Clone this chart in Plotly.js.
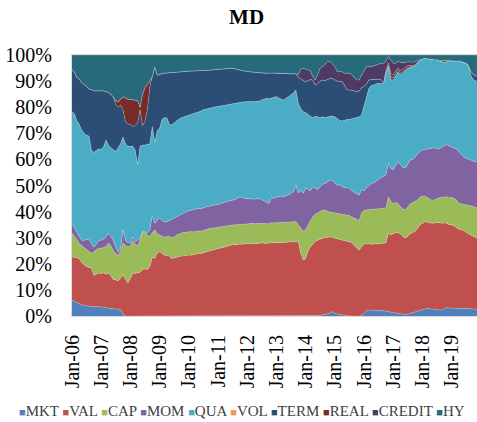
<!DOCTYPE html>
<html>
<head>
<meta charset="utf-8">
<script src="https://cdn.plot.ly/plotly-3.0.1.min.js"></script>
<style>
html,body{margin:0;padding:0;background:#fff;}
#chart{width:477px;height:422px;}
</style>
</head>
<body>
<div id="chart"></div>
<script>
// Monthly shares (%), Jan-2006 .. Dec-2019, one row per year
const MKT = [
6.0,5.5,5.0,4.6,4.3,4.0,4.0,3.8,3.6,3.5,3.5,3.6,
3.4,3.3,3.2,3.0,2.9,2.8,2.7,2.6,2.5,0.8,0,0,
0,0,0,0,0,0,0,0,0,0,0,0,
0,0,0,0,0,0,0,0,0,0,0,0,
0,0,0,0,0,0,0,0,0,0,0,0,
0,0,0,0,0,0,0,0,0,0,0,0,
0,0,0,0,0,0,0,0,0,0,0,0,
0,0,0,0,0,0,0,0,0,0,0,0,
0,0,0,0,0,0,0.2,0.5,0.6,0.8,1.2,1.7,
1.0,0.8,0.6,0.4,0.2,0,0,0,0,0,0,0.3,
1.2,2.0,2.3,2.3,2.3,2.2,2.2,2.1,2.0,1.8,1.6,1.5,
1.3,1.0,1.0,0.9,0.7,0.6,0.8,1.0,1.2,1.5,1.8,2.2,
2.5,2.9,2.9,2.8,2.8,2.6,2.4,2.3,2.3,2.8,3.3,3.1,
3.0,2.9,2.9,2.8,2.9,3.0,2.9,2.8,2.6,2.5,2.5,2.5];

const VAL = [
16.7,17.0,17.3,17.4,16.2,15.5,14.9,14.8,14.7,12.0,12.5,12.9,
12.9,13.2,12.8,13.5,12.6,11.2,11.1,10.9,12.0,15.1,14.0,12.6,
14.5,16.5,16.3,16.5,16.8,17.8,18.0,17.8,19.0,22.5,22.0,24.0,
24.6,24.0,23.3,23.3,23.0,22.0,22.3,22.5,22.8,23.0,23.0,23.2,
23.4,23.3,23.6,23.8,24.0,23.9,24.2,24.6,24.8,25.1,25.3,25.6,
25.8,26.0,26.3,26.5,26.8,27.0,27.5,27.3,27.4,27.6,27.5,27.7,
27.8,27.8,27.9,27.7,27.8,28.0,28.0,27.9,27.8,28.0,28.1,28.0,
28.1,28.2,28.2,28.2,28.3,28.4,28.4,28.5,28.7,28.6,24.0,21.5,
22.0,25.0,26.5,27.5,28.5,29.0,29.3,29.3,29.4,29.4,29.1,28.4,
28.8,28.7,28.6,28.6,28.6,28.6,28.5,28.0,27.0,26.0,25.3,26.2,
26.4,25.6,25.4,25.2,25.3,25.5,25.6,25.7,25.9,26.2,30.1,29.5,
30.2,31.0,31.0,30.6,29.8,29.3,29.7,30.5,30.8,31.0,31.7,32.8,
33.0,33.2,33.1,33.0,32.7,33.0,33.4,33.4,33.2,32.8,32.2,31.9,
32.0,31.6,31.1,30.4,30.1,29.8,29.1,28.7,28.4,27.8,27.5,27.5];

const CAP = [
9.0,8.0,7.2,5.8,6.5,7.0,6.6,5.9,5.7,9.0,9.5,9.5,
9.7,9.8,10.5,11.5,11.5,11.0,10.2,9.5,10.5,12.1,13.0,13.9,
12.5,12.3,11.2,10.5,12.2,14.5,14.0,13.2,11.5,9.5,11.0,7.5,
6.5,6.5,7.0,7.2,7.5,8.0,8.0,8.5,8.7,8.8,9.0,9.0,
8.9,9.1,8.6,8.7,8.6,8.6,8.6,8.6,8.6,8.4,8.4,8.3,
8.2,8.2,8.1,8.0,7.8,7.7,7.4,7.7,7.6,7.6,7.6,7.5,
7.5,7.6,7.6,7.6,7.6,7.6,7.5,7.5,7.4,7.3,7.7,7.6,
7.6,7.6,7.6,7.6,7.6,7.6,7.6,7.6,7.4,6.4,9.6,11.0,
11.0,10.0,10.0,10.5,10.5,10.5,10.5,10.8,10.6,10.0,9.5,9.6,
9.7,9.8,9.8,10.0,10.0,10.0,10.0,10.0,10.5,11.0,11.3,13.0,
12.9,13.0,13.1,13.3,13.4,13.3,13.3,13.4,13.4,13.4,14.0,13.0,
11.5,11.5,11.0,10.5,10.5,10.7,11.5,11.5,11.5,11.5,11.0,10.5,
10.5,9.9,9.5,9.0,8.8,8.9,9.2,9.6,10.0,10.0,10.2,10.2,
10.5,10.5,10.5,10.0,10.0,10.2,10.8,11.0,11.2,11.7,11.5,11.5];

const MOM = [
3.8,3.5,2.8,2.7,2.0,2.5,3.7,5.0,3.7,1.9,2.0,3.0,
3.0,3.2,3.8,3.6,3.5,4.0,2.5,1.5,1.0,5.0,2.0,1.5,
1.0,1.5,1.0,2.0,1.0,0.2,0.3,0.8,2.5,6.5,2.5,5.0,
6.5,6.0,5.7,5.6,6.0,6.8,7.2,7.0,7.0,7.4,7.5,7.8,
8.0,8.1,8.6,8.5,8.6,8.5,8.7,8.6,8.6,8.7,8.6,8.6,
8.8,8.8,9.0,9.1,9.2,9.3,9.3,9.6,10.0,10.5,10.2,9.8,
9.7,9.4,9.5,9.4,9.5,9.4,9.0,8.6,8.3,7.8,9.9,9.4,
9.8,9.9,10.2,9.9,10.1,10.5,11.0,11.5,14.1,12.0,14.7,14.5,
16.0,13.5,11.5,11.5,10.0,9.0,9.5,9.9,10.2,11.3,12.2,12.4,
11.5,10.7,11.5,10.5,10.4,10.4,10.4,10.0,10.0,10.0,9.7,9.0,
7.5,8.4,9.2,10.0,10.0,10.5,11.2,11.8,12.2,12.6,12.8,12.5,
13.0,14.0,16.1,16.0,16.0,16.0,16.0,16.8,16.5,17.0,17.5,17.5,
17.6,17.6,18.5,19.5,20.0,20.0,19.0,18.9,19.3,19.7,19.9,20.0,
19.5,19.5,19.5,19.8,19.0,18.0,17.6,17.5,17.3,17.2,17.5,17.5];

const QUA = [
42.8,43.5,42.7,43.0,42.3,41.0,40.1,39.5,35.9,36.2,36.0,35.0,
35.0,35.3,37.1,33.9,34.0,34.6,36.5,40.0,40.0,35.6,37.0,37.0,
37.0,34.7,35.1,29.0,35.0,33.0,33.2,34.0,33.0,34.1,31.0,34.5,
34.4,39.0,40.0,39.9,37.0,36.4,36.5,37.0,37.0,36.8,36.8,36.8,
36.7,36.7,36.8,37.0,37.1,37.5,37.5,37.5,37.5,37.6,37.7,37.7,
37.5,37.5,37.2,37.2,37.2,37.2,37.3,37.0,36.8,36.3,36.7,37.1,
37.1,37.2,37.1,37.5,37.4,37.4,38.3,39.0,39.9,40.1,37.9,38.8,
38.6,37.8,37.0,37.1,37.5,37.5,37.8,37.8,36.4,34.5,31.2,31.3,
29.0,28.5,28.5,26.5,27.5,27.8,26.5,25.8,25.2,24.8,24.5,24.5,
25.3,25.5,24.5,25.2,25.8,26.3,26.4,27.5,28.3,29.0,30.0,28.5,
32.2,35.0,37.2,37.5,37.5,37.5,36.9,36.1,35.7,39.0,37.0,34.0,
34.4,34.5,34.4,34.5,36.0,37.4,36.8,35.4,35.6,34.8,35.0,34.8,
34.9,35.2,34.6,34.2,34.1,34.0,34.2,33.6,32.7,31.9,31.8,32.6,
32.8,33.3,33.8,34.6,35.5,36.2,36.4,35.5,32.5,31.3,31.0,31.0];

const VOL = [
0,0,0,0,0,0,0,0,0,0,0,0,
0,0,0,0,0,0,0,0,0,0,0,0,
0,0,0,0,0,0,0,0,0,0,0,0,
0,0,0,0,0,0,0,0,0,0,0,0,
0,0,0,0,0,0,0,0,0,0,0,0,
0,0,0,0,0,0,0,0,0,0,0,0,
0,0,0,0,0,0,0,0,0,0,0,0,
0,0,0,0,0,0,0,0,0,0,0,0,
0,0,0,0,0,0,0,0,0,0,0,0,
0,0,0,0,0,0,0,0,0,0,0,0,
0,0,0,0,0,0,0,0,0,0,0,0,
0,0,0,0,0,0,0,0,0,0,0,0,
0,0,0,0,0,0,0,0,0,0,0,0,
0,0,0,0,0,0,0,0,0,0,0,0];

const TERM = [
16.2,15.9,16.5,17.3,18.2,18.9,18.7,18.0,23.2,23.7,22.8,22.5,
22.3,21.5,18.6,20.2,20.5,20.4,18.0,15.5,14.8,10.4,8.5,8.5,
8.5,7.6,9.4,16.0,14.0,7.5,9.0,13.2,22.0,19.1,29.0,21.3,
20.5,17.5,17.0,17.2,19.7,20.1,19.4,18.5,18.1,17.6,17.4,17.0,
16.8,16.7,16.3,16.0,15.7,15.6,15.1,14.9,14.7,14.5,14.3,14.1,
14.1,14.0,14.0,13.9,13.8,13.7,13.4,13.2,12.7,12.3,12.0,11.7,
11.6,11.6,11.4,11.2,11.0,10.8,10.3,10.0,9.6,9.9,9.6,9.3,
8.9,9.5,10.0,10.2,9.5,9.0,8.2,7.5,6.2,9.9,11.5,11.9,
11.8,13.2,14.1,14.4,12.0,12.7,14.0,14.1,14.2,14.3,14.5,14.4,
14.1,14.5,14.8,15.1,13.5,11.5,11.3,11.0,10.5,10.0,9.9,10.5,
7.8,4.9,3.2,2.3,2.2,1.7,1.5,1.4,0.3,0.5,0.7,1.0,
1.0,0.8,0.8,0.8,0.6,0.5,0.4,0.3,0.3,0.2,0.2,0.1,
0,0,0,0,0,0,0,0,0,0,0,0,
0,0,0,0,0,0,0,0.5,1.5,2.0,2.0,2.0];

const REAL = [
0,0,0,0,0,0,0,0,0,0,0,0,
0,0,0,0,0,0,1.5,2.0,2.2,5.0,9.0,9.5,
9.5,10.2,9.8,8.5,1.0,12.0,13.0,9.6,2.0,0,0,0,
0,0,0,0,0,0,0,0,0,0,0,0,
0,0,0,0,0,0,0,0,0,0,0,0,
0,0,0,0,0,0,0,0,0,0,0,0,
0,0,0,0,0,0,0,0,0,0,0,0,
0,0,0,0,0,0,0,0,0,0,0,0,
0,0,0,0,0,0,0,0,0,0,0,0,
0,0,0,0,0,0,0,0,0,0,0,0,
0,0,0,0,0,0,0,0,0,0.5,0.8,1.5,
1.0,1.0,0.8,0.8,0.8,0.8,0.7,0.5,0.3,0.2,0,0,
0,0,0,0,0,0,0,0,0.4,0.6,0.5,0.2,
0,0,0,0,0,0,0,0,0,0,0,0];

const CREDIT = [
0,0,0,0,0,0,0,0,0,0,0,0,
0,0,0,0,0,0,0,0,0,0,0,0,
0,0,0,0,0,0,0,0,0,0,0,0,
0,0,0,0,0,0,0,0,0,0,0,0,
0,0,0,0,0,0,0,0,0,0,0,0,
0,0,0,0,0,0,0,0,0,0,0,0,
0,0,0,0,0,0,0,0,0,0,0,0,
0,0,0,0,0,0,0,0,0,1.1,3.5,4.7,
4.7,4.1,3.4,1.3,1.9,3.5,4.9,5.1,6.3,6.8,6.5,5.5,
5.1,3.6,3.8,3.8,4.5,6.2,6.4,6.0,5.2,4.4,4.2,5.0,
6.0,6.6,5.1,4.9,5.1,5.5,5.8,6.3,7.3,3.5,2.4,5.0,
4.4,3.0,2.5,3.0,2.6,1.8,1.5,1.3,1.0,1.3,0.8,0.3,
0,0,0,0,0,0,0,0,0,0,0,0,
0,0,0,0,0,0,0,0,0,0,0,0];

const HY = [
5.5,6.6,8.5,9.2,10.5,11.1,12.0,13.0,13.2,13.7,13.7,13.5,
13.7,13.7,14.0,14.3,15.0,16.0,17.5,18.0,17.0,16.0,16.5,17.0,
17.0,17.2,17.2,17.5,20.0,15.0,12.5,11.4,10.0,8.3,4.5,7.7,
7.5,7.0,7.0,6.8,6.8,6.7,6.6,6.5,6.4,6.4,6.3,6.2,
6.2,6.1,6.1,6.0,6.0,5.9,5.9,5.8,5.8,5.7,5.7,5.7,
5.6,5.5,5.4,5.3,5.2,5.1,5.1,5.2,5.5,5.7,6.0,6.2,
6.3,6.4,6.5,6.6,6.7,6.8,6.9,7.0,7.0,6.9,6.8,6.9,
7.0,7.0,7.0,7.0,7.0,7.0,7.0,7.1,7.2,7.5,5.5,5.1,
5.5,5.7,6.0,8.3,9.6,7.5,5.1,4.5,3.5,2.6,2.5,3.5,
4.5,6.4,6.4,6.4,7.0,7.0,7.0,7.5,8.5,9.6,9.6,7.5,
6.0,4.5,4.5,4.5,4.2,3.8,3.5,3.2,3.2,2.5,0.6,2.0,
3.2,3.2,2.4,2.9,3.0,2.9,2.6,2.7,2.8,2.5,2.0,1.8,
1.5,1.2,1.4,1.5,1.6,1.5,1.8,2.2,2.1,2.2,2.1,2.0,
2.2,2.2,2.2,2.4,2.5,2.8,3.2,4.0,6.5,7.5,8.0,8.0];

const seriesNames = ['MKT','VAL','CAP','MOM','QUA','VOL','TERM','REAL','CREDIT','HY'];
const seriesValues = [MKT,VAL,CAP,MOM,QUA,VOL,TERM,REAL,CREDIT,HY];
const seriesColors = ['#4F81BD','#C0504D','#9BBB59','#8064A2','#4BACC6','#F79646','#2C4D75','#772C2A','#4D3B63','#276A7C'];

// monthly dates
const months = [];
for (let y = 2006; y <= 2019; y++) {
  for (let m = 1; m <= 12; m++) {
    months.push(y + '-' + (m < 10 ? '0' + m : m) + '-01');
  }
}

const FONT = 'Liberation Serif, Times New Roman, serif';

const traces = seriesNames.map((name, k) => ({
  type: 'scatter',
  mode: 'lines',
  name: name,
  x: months,
  y: seriesValues[k],
  stackgroup: 'one',
  groupnorm: k === 0 ? 'percent' : undefined,
  fillcolor: seriesColors[k],
  line: {width: 0.6, color: 'rgba(255,255,255,0.35)'},
  showlegend: false,
  hoverinfo: 'skip'
}));

const legendText = seriesNames.map((n, k) =>
  '<span style="color:' + seriesColors[k] + ';font-size:11px">\u25A0</span>' + n
).join(' ');

const layout = {
  width: 477,
  height: 422,
  margin: {l: 72, r: 0, t: 55, b: 106},
  paper_bgcolor: '#ffffff',
  plot_bgcolor: '#ffffff',
  showlegend: false,
  title: {
    text: '<b>MD</b>',
    font: {family: FONT, size: 21, color: '#000000'},
    x: 0.517, xanchor: 'center',
    y: 0.96, yanchor: 'middle'
  },
  xaxis: {
    type: 'date',
    range: ['2006-01-01', '2019-11-14'],
    tick0: '2006-01-01',
    dtick: 'M12',
    tickformat: '%b-%y',
    tickangle: -90,
    ticks: '',
    ticklabelstandoff: 10,
    tickfont: {family: FONT, size: 20, color: '#000000'},
    showgrid: false,
    showline: true,
    mirror: true,
    linecolor: '#D9D9D9',
    linewidth: 1,
    zeroline: false
  },
  yaxis: {
    range: [0, 100],
    dtick: 10,
    ticksuffix: '%',
    ticks: '',
    ticklabelstandoff: 15,
    tickfont: {family: FONT, size: 20, color: '#000000'},
    showgrid: true,
    gridcolor: '#D9D9D9',
    showline: true,
    linecolor: '#D9D9D9',
    linewidth: 1,
    zeroline: false
  },
  annotations: [{
    xref: 'paper', yref: 'paper',
    x: -0.136, y: -0.364,
    xanchor: 'left', yanchor: 'middle',
    showarrow: false,
    align: 'left',
    text: legendText,
    font: {family: FONT, size: 15, color: '#404040'}
  }]
};

Plotly.newPlot('chart', traces, layout, {staticPlot: true, displayModeBar: false});
</script>
</body>
</html>
